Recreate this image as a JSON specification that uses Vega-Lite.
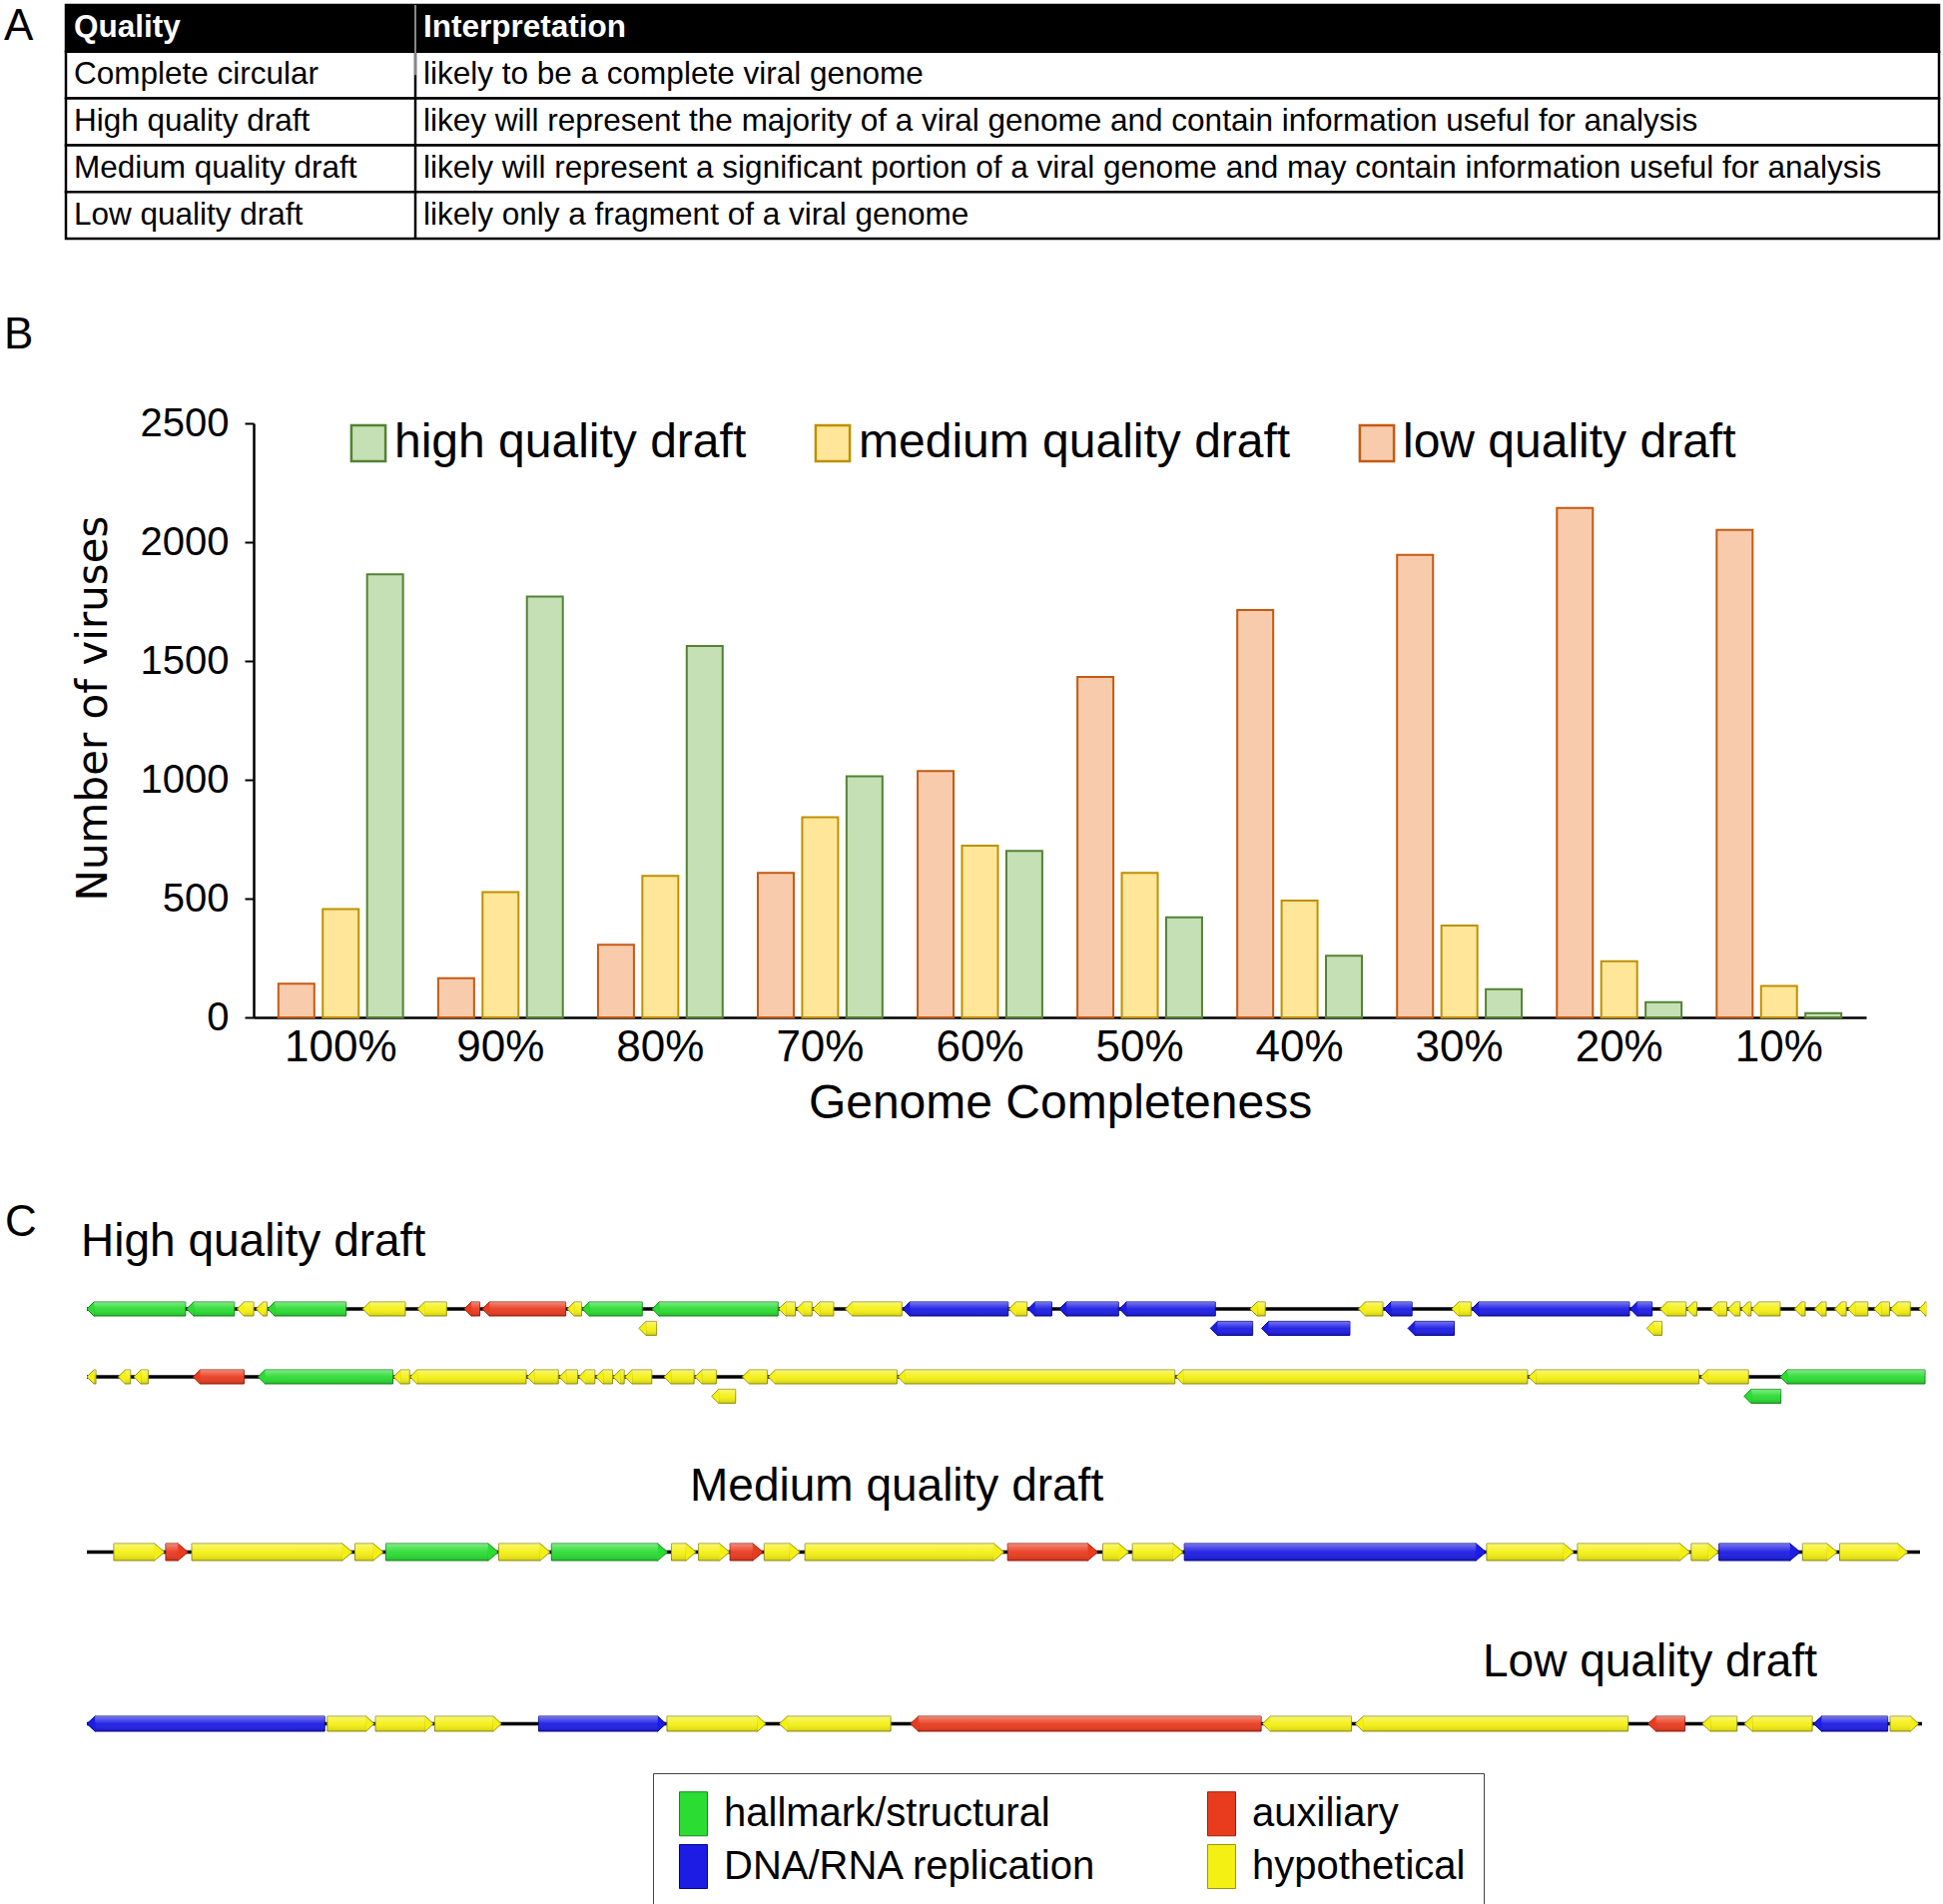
{
 "$schema": "https://vega.github.io/schema/vega-lite/v6.json",
 "padding": {"left": 0, "top": 3, "right": 0, "bottom": 0},
 "background": "white",
 "config": {
   "view": {"stroke": null},
   "font": "Liberation Sans",
   "title": {"font": "Liberation Sans", "fontWeight": "normal", "color": "black"},
   "axis": {"labelFont": "Liberation Sans", "titleFont": "Liberation Sans", "grid": false},
   "legend": {"labelFont": "Liberation Sans"}
 },
 "spacing": 0,
 "bounds": "flush",
 "resolve": {
   "scale": {"x": "independent", "y": "independent", "fill": "independent", "stroke": "independent", "color": "independent"},
   "axis": {"x": "independent", "y": "independent"},
   "legend": {"fill": "independent", "stroke": "independent"}
 },
 "datasets": {
   "table": [
     {"quality": "Quality", "interpretation": "Interpretation"},
     {"quality": "Complete circular", "interpretation": "likely to be a complete viral genome"},
     {"quality": "High quality draft", "interpretation": "likey will represent the majority of a viral genome and contain information useful for analysis"},
     {"quality": "Medium quality draft", "interpretation": "likely will represent a significant portion of a viral genome and may contain information useful for analysis"},
     {"quality": "Low quality draft", "interpretation": "likely only a fragment of a viral genome"}
   ],
   "bars": [
     {"completeness": "100%", "quality": "low quality draft", "count": 142},
     {"completeness": "100%", "quality": "medium quality draft", "count": 456},
     {"completeness": "100%", "quality": "high quality draft", "count": 1865},
     {"completeness": "90%", "quality": "low quality draft", "count": 165},
     {"completeness": "90%", "quality": "medium quality draft", "count": 527},
     {"completeness": "90%", "quality": "high quality draft", "count": 1771},
     {"completeness": "80%", "quality": "low quality draft", "count": 306},
     {"completeness": "80%", "quality": "medium quality draft", "count": 596},
     {"completeness": "80%", "quality": "high quality draft", "count": 1563},
     {"completeness": "70%", "quality": "low quality draft", "count": 608},
     {"completeness": "70%", "quality": "medium quality draft", "count": 842},
     {"completeness": "70%", "quality": "high quality draft", "count": 1015},
     {"completeness": "60%", "quality": "low quality draft", "count": 1037},
     {"completeness": "60%", "quality": "medium quality draft", "count": 723},
     {"completeness": "60%", "quality": "high quality draft", "count": 701},
     {"completeness": "50%", "quality": "low quality draft", "count": 1433},
     {"completeness": "50%", "quality": "medium quality draft", "count": 608},
     {"completeness": "50%", "quality": "high quality draft", "count": 421},
     {"completeness": "40%", "quality": "low quality draft", "count": 1714},
     {"completeness": "40%", "quality": "medium quality draft", "count": 492},
     {"completeness": "40%", "quality": "high quality draft", "count": 259},
     {"completeness": "30%", "quality": "low quality draft", "count": 1946},
     {"completeness": "30%", "quality": "medium quality draft", "count": 387},
     {"completeness": "30%", "quality": "high quality draft", "count": 119},
     {"completeness": "20%", "quality": "low quality draft", "count": 2144},
     {"completeness": "20%", "quality": "medium quality draft", "count": 236},
     {"completeness": "20%", "quality": "high quality draft", "count": 64},
     {"completeness": "10%", "quality": "low quality draft", "count": 2051},
     {"completeness": "10%", "quality": "medium quality draft", "count": 132},
     {"completeness": "10%", "quality": "high quality draft", "count": 18}
   ],
   "high1": [
     {"start": 1, "end": 1283, "category": "hallmark/structural", "track": "main"},
     {"start": 1296, "end": 1918, "category": "hallmark/structural", "track": "main"},
     {"start": 1952, "end": 2168, "category": "hypothetical", "track": "main"},
     {"start": 2199, "end": 2341, "category": "hypothetical", "track": "main"},
     {"start": 2350, "end": 3369, "category": "hallmark/structural", "track": "main"},
     {"start": 3585, "end": 4138, "category": "hypothetical", "track": "main"},
     {"start": 4298, "end": 4674, "category": "hypothetical", "track": "main"},
     {"start": 4903, "end": 5106, "category": "auxiliary", "track": "main"},
     {"start": 5140, "end": 6222, "category": "auxiliary", "track": "main"},
     {"start": 6243, "end": 6429, "category": "hypothetical", "track": "main"},
     {"start": 6438, "end": 7216, "category": "hallmark/structural", "track": "main"},
     {"start": 7173, "end": 7402, "category": "hypothetical", "track": "lower"},
     {"start": 7346, "end": 8980, "category": "hallmark/structural", "track": "main"},
     {"start": 8989, "end": 9205, "category": "hypothetical", "track": "main"},
     {"start": 9218, "end": 9421, "category": "hypothetical", "track": "main"},
     {"start": 9430, "end": 9702, "category": "hypothetical", "track": "main"},
     {"start": 9853, "end": 10588, "category": "hypothetical", "track": "main"},
     {"start": 10601, "end": 11970, "category": "DNA/RNA replication", "track": "main"},
     {"start": 11979, "end": 12215, "category": "hypothetical", "track": "main"},
     {"start": 12227, "end": 12536, "category": "DNA/RNA replication", "track": "main"},
     {"start": 12635, "end": 13403, "category": "DNA/RNA replication", "track": "main"},
     {"start": 13416, "end": 14661, "category": "DNA/RNA replication", "track": "main"},
     {"start": 14597, "end": 15146, "category": "DNA/RNA replication", "track": "lower"},
     {"start": 15112, "end": 15309, "category": "hypothetical", "track": "main"},
     {"start": 15262, "end": 16408, "category": "DNA/RNA replication", "track": "lower"},
     {"start": 16519, "end": 16837, "category": "hypothetical", "track": "main"},
     {"start": 16850, "end": 17215, "category": "DNA/RNA replication", "track": "main"},
     {"start": 17163, "end": 17764, "category": "DNA/RNA replication", "track": "lower"},
     {"start": 17730, "end": 17982, "category": "hypothetical", "track": "main"},
     {"start": 17990, "end": 20040, "category": "DNA/RNA replication", "track": "main"},
     {"start": 20049, "end": 20335, "category": "DNA/RNA replication", "track": "main"},
     {"start": 20265, "end": 20464, "category": "hypothetical", "track": "lower"},
     {"start": 20438, "end": 20776, "category": "hypothetical", "track": "main"},
     {"start": 20785, "end": 20915, "category": "hypothetical", "track": "main"},
     {"start": 21101, "end": 21305, "category": "hypothetical", "track": "main"},
     {"start": 21318, "end": 21478, "category": "hypothetical", "track": "main"},
     {"start": 21491, "end": 21621, "category": "hypothetical", "track": "main"},
     {"start": 21630, "end": 21998, "category": "hypothetical", "track": "main"},
     {"start": 22185, "end": 22323, "category": "hypothetical", "track": "main"},
     {"start": 22444, "end": 22596, "category": "hypothetical", "track": "main"},
     {"start": 22705, "end": 22856, "category": "hypothetical", "track": "main"},
     {"start": 22878, "end": 23138, "category": "hypothetical", "track": "main"},
     {"start": 23216, "end": 23419, "category": "hypothetical", "track": "main"},
     {"start": 23432, "end": 23688, "category": "hypothetical", "track": "main"},
     {"start": 23800, "end": 23880, "category": "hypothetical", "track": "main"}
   ],
   "high2": [
     {"start": 23880, "end": 23997, "category": "hypothetical", "track": "main"},
     {"start": 24287, "end": 24447, "category": "hypothetical", "track": "main"},
     {"start": 24490, "end": 24676, "category": "hypothetical", "track": "main"},
     {"start": 25259, "end": 25921, "category": "auxiliary", "track": "main"},
     {"start": 26102, "end": 27853, "category": "hallmark/structural", "track": "main"},
     {"start": 27862, "end": 28070, "category": "hypothetical", "track": "main"},
     {"start": 28075, "end": 29583, "category": "hypothetical", "track": "main"},
     {"start": 29596, "end": 30000, "category": "hypothetical", "track": "main"},
     {"start": 30013, "end": 30250, "category": "hypothetical", "track": "main"},
     {"start": 30263, "end": 30475, "category": "hypothetical", "track": "main"},
     {"start": 30488, "end": 30704, "category": "hypothetical", "track": "main"},
     {"start": 30712, "end": 30855, "category": "hypothetical", "track": "main"},
     {"start": 30864, "end": 31213, "category": "hypothetical", "track": "main"},
     {"start": 31373, "end": 31762, "category": "hypothetical", "track": "main"},
     {"start": 31775, "end": 32051, "category": "hypothetical", "track": "main"},
     {"start": 31990, "end": 32301, "category": "hypothetical", "track": "lower"},
     {"start": 32388, "end": 32712, "category": "hypothetical", "track": "main"},
     {"start": 32725, "end": 34396, "category": "hypothetical", "track": "main"},
     {"start": 34408, "end": 38004, "category": "hypothetical", "track": "main"},
     {"start": 38017, "end": 42581, "category": "hypothetical", "track": "main"},
     {"start": 42594, "end": 44807, "category": "hypothetical", "track": "main"},
     {"start": 44829, "end": 45449, "category": "hypothetical", "track": "main"},
     {"start": 45393, "end": 45870, "category": "hallmark/structural", "track": "lower"},
     {"start": 45861, "end": 47741, "category": "hallmark/structural", "track": "main"}
   ],
   "medium": [
     {"start": 267, "end": 768, "category": "hypothetical", "track": "main"},
     {"start": 780, "end": 1000, "category": "auxiliary", "track": "main"},
     {"start": 1037, "end": 2624, "category": "hypothetical", "track": "main"},
     {"start": 2649, "end": 2930, "category": "hypothetical", "track": "main"},
     {"start": 2954, "end": 4066, "category": "hallmark/structural", "track": "main"},
     {"start": 4070, "end": 4578, "category": "hypothetical", "track": "main"},
     {"start": 4591, "end": 5739, "category": "hallmark/structural", "track": "main"},
     {"start": 5776, "end": 6020, "category": "hypothetical", "track": "main"},
     {"start": 6044, "end": 6350, "category": "hypothetical", "track": "main"},
     {"start": 6355, "end": 6680, "category": "auxiliary", "track": "main"},
     {"start": 6692, "end": 7046, "category": "hypothetical", "track": "main"},
     {"start": 7095, "end": 9061, "category": "hypothetical", "track": "main"},
     {"start": 9098, "end": 9989, "category": "auxiliary", "track": "main"},
     {"start": 10038, "end": 10295, "category": "hypothetical", "track": "main"},
     {"start": 10331, "end": 10832, "category": "hypothetical", "track": "main"},
     {"start": 10844, "end": 13824, "category": "DNA/RNA replication", "track": "main"},
     {"start": 13830, "end": 14691, "category": "hypothetical", "track": "main"},
     {"start": 14728, "end": 15839, "category": "hypothetical", "track": "main"},
     {"start": 15852, "end": 16121, "category": "hypothetical", "track": "main"},
     {"start": 16126, "end": 16927, "category": "DNA/RNA replication", "track": "main"},
     {"start": 16951, "end": 17293, "category": "hypothetical", "track": "main"},
     {"start": 17318, "end": 17990, "category": "hypothetical", "track": "main"}
   ],
   "low": [
     {"start": 1, "end": 896, "category": "DNA/RNA replication", "strand": "-", "track": "main"},
     {"start": 906, "end": 1082, "category": "hypothetical", "strand": "+", "track": "main"},
     {"start": 1087, "end": 1305, "category": "hypothetical", "strand": "+", "track": "main"},
     {"start": 1310, "end": 1561, "category": "hypothetical", "strand": "+", "track": "main"},
     {"start": 1701, "end": 2180, "category": "DNA/RNA replication", "strand": "+", "track": "main"},
     {"start": 2184, "end": 2556, "category": "hypothetical", "strand": "+", "track": "main"},
     {"start": 2607, "end": 3026, "category": "hypothetical", "strand": "-", "track": "main"},
     {"start": 3100, "end": 4420, "category": "auxiliary", "strand": "-", "track": "main"},
     {"start": 4425, "end": 4760, "category": "hypothetical", "strand": "-", "track": "main"},
     {"start": 4774, "end": 5801, "category": "hypothetical", "strand": "-", "track": "main"},
     {"start": 5876, "end": 6015, "category": "auxiliary", "strand": "-", "track": "main"},
     {"start": 6080, "end": 6211, "category": "hypothetical", "strand": "-", "track": "main"},
     {"start": 6238, "end": 6494, "category": "hypothetical", "strand": "-", "track": "main"},
     {"start": 6499, "end": 6778, "category": "DNA/RNA replication", "strand": "-", "track": "main"},
     {"start": 6787, "end": 6894, "category": "hypothetical", "strand": "+", "track": "main"}
   ]
 },
 "vconcat": [
   {"width": 1942, "height": 234, "data": {"name": "table"},
    "title": {"text": "A", "anchor": "start", "frame": "group", "baseline": "top", "offset": -45, "dx": 4, "fontSize": 44},
    "layer": [
      {"mark": {"type": "rect", "stroke": "black", "strokeWidth": 2.5},
       "encoding": {
         "y": {"field": "quality", "type": "nominal", "sort": null, "axis": null, "scale": {"paddingInner": 0, "paddingOuter": 0}},
         "x": {"datum": 0, "type": "quantitative", "scale": {"domain": [0, 1], "range": [66, 1942]}, "axis": null},
         "x2": {"datum": 1},
         "fill": {"condition": {"test": "datum.quality === 'Quality'", "value": "black"}, "value": "white"}}},
      {"data": {"values": [{"divider": "column"}]},
       "mark": {"type": "rule", "color": "black", "strokeWidth": 2.5},
       "encoding": {"x": {"datum": 0.18657, "type": "quantitative", "axis": null}}},
      {"transform": [{"filter": "datum.quality === 'Quality'"}],
       "mark": {"type": "rule", "color": "#d0d0d0", "strokeWidth": 1.3},
       "encoding": {
         "x": {"datum": 0.18657, "type": "quantitative", "axis": null},
         "y": {"field": "quality", "type": "nominal", "sort": null, "axis": null, "bandPosition": 0},
         "y2": {"datum": "Complete circular"}}},
      {"transform": [{"filter": "datum.quality === 'Quality'"}],
       "mark": {"type": "text", "align": "left", "baseline": "middle", "dx": 8, "fontSize": 31.5, "fontWeight": "bold", "color": "white"},
       "encoding": {"text": {"field": "quality"}, "y": {"field": "quality", "type": "nominal", "sort": null, "axis": null}, "x": {"datum": 0, "type": "quantitative", "axis": null}}},
      {"transform": [{"filter": "datum.quality !== 'Quality'"}],
       "mark": {"type": "text", "align": "left", "baseline": "middle", "dx": 8, "fontSize": 31.5, "color": "black"},
       "encoding": {"text": {"field": "quality"}, "y": {"field": "quality", "type": "nominal", "sort": null, "axis": null}, "x": {"datum": 0, "type": "quantitative", "axis": null}}},
      {"transform": [{"filter": "datum.quality === 'Quality'"}],
       "mark": {"type": "text", "align": "left", "baseline": "middle", "dx": 8, "fontSize": 31.5, "fontWeight": "bold", "color": "white"},
       "encoding": {"text": {"field": "interpretation"}, "y": {"field": "quality", "type": "nominal", "sort": null, "axis": null}, "x": {"datum": 0.18657, "type": "quantitative", "axis": null}}},
      {"transform": [{"filter": "datum.quality !== 'Quality'"}],
       "mark": {"type": "text", "align": "left", "baseline": "middle", "dx": 8, "fontSize": 31.5, "color": "black"},
       "encoding": {"text": {"field": "interpretation"}, "y": {"field": "quality", "type": "nominal", "sort": null, "axis": null}, "x": {"datum": 0.18657, "type": "quantitative", "axis": null}}}
    ]},
   {"width": 1869, "height": 780, "data": {"name": "bars"},
    "title": {"text": "B", "anchor": "start", "frame": "group", "baseline": "top", "offset": -118.5, "dx": 4, "fontSize": 44},
    "mark": {"type": "bar", "strokeWidth": 2, "opacity": 1},
    "encoding": {
      "x": {"field": "completeness", "type": "nominal", "sort": ["100%", "90%", "80%", "70%", "60%", "50%", "40%", "30%", "20%", "10%"],
            "scale": {"range": [254, 1869], "paddingInner": 0.22, "paddingOuter": 0.155},
            "axis": {"title": "Genome Completeness", "labelAngle": 0, "labelFontSize": 44, "labelColor": "black", "labelPadding": 8, "ticks": false, "domainColor": "black", "domainWidth": 2.5, "titleFontSize": 48, "titleFontWeight": "normal", "titleColor": "black", "titlePadding": 10}},
      "xOffset": {"field": "quality", "type": "nominal", "sort": ["low quality draft", "medium quality draft", "high quality draft"], "scale": {"paddingInner": 0.19, "paddingOuter": 0}},
      "y": {"field": "count", "type": "quantitative", "scale": {"domain": [0, 2500], "nice": false, "range": [780, 185]},
            "axis": {"offset": -254, "values": [0, 500, 1000, 1500, 2000, 2500], "format": "d", "grid": false, "title": "Number of viruses", "titleFont": "DejaVu Sans", "titleFontSize": 42, "titleFontWeight": "normal", "titleColor": "black", "titlePadding": 25, "titleY": 470, "labelFontSize": 40, "labelColor": "black", "labelPadding": 16, "tickSize": 9, "tickWidth": 2, "tickColor": "black", "domainColor": "black", "domainWidth": 2.5}},
      "fill": {"field": "quality", "type": "nominal",
               "scale": {"domain": ["high quality draft", "medium quality draft", "low quality draft"], "range": ["#c5e0b4", "#ffe699", "#f8cbad"]},
               "legend": {"title": null, "orient": "none", "legendX": 345, "legendY": 181, "direction": "horizontal", "columns": 3, "columnPadding": 62, "labelFontSize": 48, "labelColor": "black", "labelOffset": 2, "labelLimit": 700, "symbolType": "M -0.95 -1 H 0.95 V 1 H -0.95 Z", "symbolSize": 1296, "symbolStrokeWidth": 2.5, "padding": 0}},
      "stroke": {"field": "quality", "type": "nominal",
               "scale": {"domain": ["high quality draft", "medium quality draft", "low quality draft"], "range": ["#548235", "#bf9000", "#c55a11"]},
               "legend": {"title": null, "orient": "none", "legendX": 345, "legendY": 181, "direction": "horizontal", "columns": 3, "columnPadding": 62, "labelFontSize": 48, "labelColor": "black", "labelOffset": 2, "labelLimit": 700, "symbolType": "M -0.95 -1 H 0.95 V 1 H -0.95 Z", "symbolSize": 1296, "symbolStrokeWidth": 2.5, "padding": 0}}
    }},
   {"width": 87, "height": 281.3, "data": {"values": []}, "mark": "point",
    "title": {"text": "C", "anchor": "start", "frame": "group", "baseline": "top", "offset": -227.5, "dx": 5, "fontSize": 44}},
   {"width": 1928, "height": 67.4,
    "title": {"text": "High quality draft", "anchor": "start", "frame": "group", "fontSize": 46, "baseline": "alphabetic", "offset": -3, "dx": 81},
    "layer": [
      {"data": {"values": [{"start": 1, "end": 23880}]},
       "mark": {"type": "rule", "strokeWidth": 3.5, "color": "black"},
       "encoding": {
         "x": {"field": "start", "type": "quantitative", "scale": {"domain": [1, 23880], "range": [87, 1928], "nice": false, "zero": false},
               "axis": {"orient": "top", "values": [1, 1000, 2000, 3000, 4000, 5000, 6000, 7000, 8000, 9000, 10000, 11000, 12000, 13000, 14000, 15000, 16000, 17000, 18000, 19000, 20000, 21000, 22000, 23000], "format": ",", "title": null, "domain": false, "grid": false, "tickSize": 4, "tickColor": "#777", "labelFont": "Open Sans", "labelFontSize": 11.5, "labelColor": "#444", "labelPadding": 1, "labelFlush": true, "labelOverlap": false}},
         "x2": {"field": "end"},
         "y": {"datum": "main", "type": "nominal", "bandPosition": 0.5, "scale": {"domain": ["main", "lower"], "range": [0, 39.4], "paddingInner": 0.278, "paddingOuter": 0.155}, "axis": null}}},
      {"data": {"name": "high1"},
       "mark": {"type": "rect", "xOffset": 7, "strokeWidth": 1, "opacity": 1},
       "encoding": {
         "x": {"field": "start", "type": "quantitative", "axis": null},
         "x2": {"field": "end"},
         "y": {"field": "track", "type": "nominal", "axis": null},
         "fill": {"field": "category", "type": "nominal", "scale": {"domain": ["hallmark/structural", "auxiliary", "DNA/RNA replication", "hypothetical"], "range": ["#2bdc33", "#e93c1f", "#1c1ce4", "#f4f014"]}, "legend": null},
         "stroke": {"field": "category", "type": "nominal", "scale": {"domain": ["hallmark/structural", "auxiliary", "DNA/RNA replication", "hypothetical"], "range": ["#138a17", "#9e1a0c", "#06068c", "#9a9412"]}, "legend": null}}},
      {"data": {"name": "high1"},
       "mark": {"type": "point", "shape": "M 1.08 -1 L 1 -1 L 0 0 L 1 1 L 1.08 1", "size": 196, "filled": true, "strokeWidth": 1, "opacity": 1},
       "encoding": {
         "x": {"field": "start", "type": "quantitative", "axis": null},
         "y": {"field": "track", "type": "nominal", "axis": null},
         "fill": {"field": "category", "type": "nominal", "legend": null},
         "stroke": {"field": "category", "type": "nominal", "legend": null}}},
      {"data": {"name": "high1"},
       "mark": {"type": "rect", "xOffset": 7, "strokeWidth": 0, "opacity": 1, "fill": {"gradient": "linear", "x1": 0, "y1": 0, "x2": 0, "y2": 1, "stops": [{"offset": 0, "color": "rgba(255,255,255,0.4)"}, {"offset": 0.5, "color": "rgba(255,255,255,0.05)"}, {"offset": 1, "color": "rgba(0,0,0,0.15)"}]}},
       "encoding": {
         "x": {"field": "start", "type": "quantitative", "axis": null},
         "x2": {"field": "end"},
         "y": {"field": "track", "type": "nominal", "axis": null}}}
    ]},
   {"width": 1928, "height": 173.8,
    "layer": [
      {"data": {"values": [{"start": 23880, "end": 47741}]},
       "mark": {"type": "rule", "strokeWidth": 3.5, "color": "black"},
       "encoding": {
         "x": {"field": "start", "type": "quantitative", "scale": {"domain": [23880, 47741], "range": [87, 1928], "nice": false, "zero": false},
               "axis": {"orient": "top", "values": [24000, 25000, 26000, 27000, 28000, 29000, 30000, 31000, 32000, 33000, 34000, 35000, 36000, 37000, 38000, 39000, 40000, 41000, 42000, 43000, 44000, 45000, 46000, 47741], "format": ",", "title": null, "domain": false, "grid": false, "tickSize": 4, "tickColor": "#777", "labelFont": "Open Sans", "labelFontSize": 11.5, "labelColor": "#444", "labelPadding": 1, "labelFlush": true, "labelOverlap": false}},
         "x2": {"field": "end"},
         "y": {"datum": "main", "type": "nominal", "bandPosition": 0.5, "scale": {"domain": ["main", "lower"], "range": [0, 39.4], "paddingInner": 0.278, "paddingOuter": 0.155}, "axis": null}}},
      {"data": {"name": "high2"},
       "mark": {"type": "rect", "xOffset": 7, "strokeWidth": 1, "opacity": 1},
       "encoding": {
         "x": {"field": "start", "type": "quantitative", "axis": null},
         "x2": {"field": "end"},
         "y": {"field": "track", "type": "nominal", "axis": null},
         "fill": {"field": "category", "type": "nominal", "scale": {"domain": ["hallmark/structural", "auxiliary", "DNA/RNA replication", "hypothetical"], "range": ["#2bdc33", "#e93c1f", "#1c1ce4", "#f4f014"]}, "legend": null},
         "stroke": {"field": "category", "type": "nominal", "scale": {"domain": ["hallmark/structural", "auxiliary", "DNA/RNA replication", "hypothetical"], "range": ["#138a17", "#9e1a0c", "#06068c", "#9a9412"]}, "legend": null}}},
      {"data": {"name": "high2"},
       "mark": {"type": "point", "shape": "M 1.08 -1 L 1 -1 L 0 0 L 1 1 L 1.08 1", "size": 196, "filled": true, "strokeWidth": 1, "opacity": 1},
       "encoding": {
         "x": {"field": "start", "type": "quantitative", "axis": null},
         "y": {"field": "track", "type": "nominal", "axis": null},
         "fill": {"field": "category", "type": "nominal", "legend": null},
         "stroke": {"field": "category", "type": "nominal", "legend": null}}},
      {"data": {"name": "high2"},
       "mark": {"type": "rect", "xOffset": 7, "strokeWidth": 0, "opacity": 1, "fill": {"gradient": "linear", "x1": 0, "y1": 0, "x2": 0, "y2": 1, "stops": [{"offset": 0, "color": "rgba(255,255,255,0.4)"}, {"offset": 0.5, "color": "rgba(255,255,255,0.05)"}, {"offset": 1, "color": "rgba(0,0,0,0.15)"}]}},
       "encoding": {
         "x": {"field": "start", "type": "quantitative", "axis": null},
         "x2": {"field": "end"},
         "y": {"field": "track", "type": "nominal", "axis": null}}}
    ]},
   {"width": 1928, "height": 172.5,
    "title": {"text": "Medium quality draft", "anchor": "start", "frame": "group", "fontSize": 46, "baseline": "alphabetic", "offset": -5.5, "dx": 691},
    "layer": [
      {"data": {"values": [{"start": 1, "end": 18112}]},
       "mark": {"type": "rule", "strokeWidth": 3.5, "color": "black"},
       "encoding": {
         "x": {"field": "start", "type": "quantitative", "scale": {"domain": [1, 18112], "range": [87, 1923], "nice": false, "zero": false},
               "axis": {"orient": "top", "values": [1, 1000, 2000, 3000, 4000, 5000, 6000, 7000, 8000, 9000, 10000, 11000, 12000, 13000, 14000, 15000, 16000, 17000, 18112], "format": ",", "title": null, "domain": false, "grid": false, "tickSize": 4, "tickColor": "#777", "labelFont": "Open Sans", "labelFontSize": 11.5, "labelColor": "#444", "labelPadding": 1, "labelFlush": true, "labelOverlap": false}},
         "x2": {"field": "end"},
         "y": {"datum": "main", "type": "nominal", "bandPosition": 0.5, "scale": {"domain": ["main"], "range": [0, 23], "paddingInner": 0, "paddingOuter": 0.176}, "axis": null}}},
      {"data": {"name": "medium"},
       "mark": {"type": "rect", "x2Offset": -10, "strokeWidth": 1, "opacity": 1},
       "encoding": {
         "x": {"field": "start", "type": "quantitative", "axis": null},
         "x2": {"field": "end"},
         "y": {"field": "track", "type": "nominal", "axis": null},
         "fill": {"field": "category", "type": "nominal", "scale": {"domain": ["hallmark/structural", "auxiliary", "DNA/RNA replication", "hypothetical"], "range": ["#2bdc33", "#e93c1f", "#1c1ce4", "#f4f014"]}, "legend": null},
         "stroke": {"field": "category", "type": "nominal", "scale": {"domain": ["hallmark/structural", "auxiliary", "DNA/RNA replication", "hypothetical"], "range": ["#138a17", "#9e1a0c", "#06068c", "#9a9412"]}, "legend": null}}},
      {"data": {"name": "medium"},
       "mark": {"type": "point", "shape": "M -1.26 -1 L -1.18 -1 L 0 0 L -1.18 1 L -1.26 1", "size": 289, "filled": true, "strokeWidth": 1, "opacity": 1},
       "encoding": {
         "x": {"field": "end", "type": "quantitative", "axis": null},
         "y": {"field": "track", "type": "nominal", "axis": null},
         "fill": {"field": "category", "type": "nominal", "legend": null},
         "stroke": {"field": "category", "type": "nominal", "legend": null}}},
      {"data": {"name": "medium"},
       "mark": {"type": "rect", "x2Offset": -10, "strokeWidth": 0, "opacity": 1, "fill": {"gradient": "linear", "x1": 0, "y1": 0, "x2": 0, "y2": 1, "stops": [{"offset": 0, "color": "rgba(255,255,255,0.4)"}, {"offset": 0.5, "color": "rgba(255,255,255,0.05)"}, {"offset": 1, "color": "rgba(0,0,0,0.15)"}]}},
       "encoding": {
         "x": {"field": "start", "type": "quantitative", "axis": null},
         "x2": {"field": "end"},
         "y": {"field": "track", "type": "nominal", "axis": null}}}
    ]},
   {"width": 1928, "height": 21,
    "title": {"text": "Low quality draft", "anchor": "start", "frame": "group", "fontSize": 46, "baseline": "alphabetic", "offset": -9, "dx": 1485},
    "layer": [
      {"data": {"values": [{"start": 1, "end": 6907}]},
       "mark": {"type": "rule", "strokeWidth": 3.5, "color": "black"},
       "encoding": {
         "x": {"field": "start", "type": "quantitative", "scale": {"domain": [1, 6907], "range": [87, 1925], "nice": false, "zero": false},
               "axis": {"orient": "top", "values": [1, 250, 500, 750, 1000, 1250, 1500, 1750, 2000, 2250, 2500, 2750, 3000, 3250, 3500, 3750, 4000, 4250, 4500, 4750, 5000, 5250, 5500, 5750, 6000, 6250, 6500, 6750, 6907], "format": ",", "title": null, "domain": false, "grid": false, "tickSize": 4, "tickColor": "#777", "labelFont": "Open Sans", "labelFontSize": 11, "labelColor": "#444", "labelPadding": 1, "labelFlush": true, "labelOverlap": false}},
         "x2": {"field": "end"},
         "y": {"datum": "main", "type": "nominal", "bandPosition": 0.5, "scale": {"domain": ["main"], "paddingInner": 0, "paddingOuter": 0.2}, "axis": null}}},
      {"data": {"name": "low"},
       "transform": [{"filter": "datum.strand === '-'"}],
       "mark": {"type": "rect", "xOffset": 8, "strokeWidth": 1, "opacity": 1},
       "encoding": {
         "x": {"field": "start", "type": "quantitative", "axis": null},
         "x2": {"field": "end"},
         "y": {"field": "track", "type": "nominal", "axis": null},
         "fill": {"field": "category", "type": "nominal", "scale": {"domain": ["hallmark/structural", "DNA/RNA replication", "auxiliary", "hypothetical"], "range": ["#2bdc33", "#1c1ce4", "#e93c1f", "#f4f014"]},
                  "legend": {"title": null, "orient": "none", "legendX": 654, "legendY": 60, "direction": "vertical", "columns": 2, "columnPadding": 102, "rowPadding": 4, "padding": 18, "strokeColor": "#444", "fillColor": "white", "labelFontSize": 40, "labelColor": "black", "labelOffset": 8, "labelLimit": 600, "symbolType": "M -0.636 -1 H 0.636 V 1 H -0.636 Z", "symbolSize": 1936, "symbolStrokeWidth": 1}},
         "stroke": {"field": "category", "type": "nominal", "scale": {"domain": ["hallmark/structural", "DNA/RNA replication", "auxiliary", "hypothetical"], "range": ["#138a17", "#06068c", "#9e1a0c", "#9a9412"]},
                  "legend": {"title": null, "orient": "none", "legendX": 654, "legendY": 60, "direction": "vertical", "columns": 2, "columnPadding": 102, "rowPadding": 4, "padding": 18, "strokeColor": "#444", "fillColor": "white", "labelFontSize": 40, "labelColor": "black", "labelOffset": 8, "labelLimit": 600, "symbolType": "M -0.636 -1 H 0.636 V 1 H -0.636 Z", "symbolSize": 1936, "symbolStrokeWidth": 1}}}},
      {"data": {"name": "low"},
       "transform": [{"filter": "datum.strand === '+'"}],
       "mark": {"type": "rect", "x2Offset": -8, "strokeWidth": 1, "opacity": 1},
       "encoding": {
         "x": {"field": "start", "type": "quantitative", "axis": null},
         "x2": {"field": "end"},
         "y": {"field": "track", "type": "nominal", "axis": null},
         "fill": {"field": "category", "type": "nominal", "legend": null},
         "stroke": {"field": "category", "type": "nominal", "legend": null}}},
      {"data": {"name": "low"},
       "transform": [{"filter": "datum.strand === '-'"}],
       "mark": {"type": "point", "shape": "M 1.14 -1 L 1.07 -1 L 0 0 L 1.07 1 L 1.14 1", "size": 225, "filled": true, "strokeWidth": 1, "opacity": 1},
       "encoding": {
         "x": {"field": "start", "type": "quantitative", "axis": null},
         "y": {"field": "track", "type": "nominal", "axis": null},
         "fill": {"field": "category", "type": "nominal", "legend": null},
         "stroke": {"field": "category", "type": "nominal", "legend": null}}},
      {"data": {"name": "low"},
       "transform": [{"filter": "datum.strand === '+'"}],
       "mark": {"type": "point", "shape": "M -1.14 -1 L -1.07 -1 L 0 0 L -1.07 1 L -1.14 1", "size": 225, "filled": true, "strokeWidth": 1, "opacity": 1},
       "encoding": {
         "x": {"field": "end", "type": "quantitative", "axis": null},
         "y": {"field": "track", "type": "nominal", "axis": null},
         "fill": {"field": "category", "type": "nominal", "legend": null},
         "stroke": {"field": "category", "type": "nominal", "legend": null}}},
      {"data": {"name": "low"},
       "transform": [{"filter": "datum.strand === '-'"}],
       "mark": {"type": "rect", "xOffset": 8, "strokeWidth": 0, "opacity": 1, "fill": {"gradient": "linear", "x1": 0, "y1": 0, "x2": 0, "y2": 1, "stops": [{"offset": 0, "color": "rgba(255,255,255,0.4)"}, {"offset": 0.5, "color": "rgba(255,255,255,0.05)"}, {"offset": 1, "color": "rgba(0,0,0,0.15)"}]}},
       "encoding": {
         "x": {"field": "start", "type": "quantitative", "axis": null},
         "x2": {"field": "end"},
         "y": {"field": "track", "type": "nominal", "axis": null}}},
      {"data": {"name": "low"},
       "transform": [{"filter": "datum.strand === '+'"}],
       "mark": {"type": "rect", "x2Offset": -8, "strokeWidth": 0, "opacity": 1, "fill": {"gradient": "linear", "x1": 0, "y1": 0, "x2": 0, "y2": 1, "stops": [{"offset": 0, "color": "rgba(255,255,255,0.4)"}, {"offset": 0.5, "color": "rgba(255,255,255,0.05)"}, {"offset": 1, "color": "rgba(0,0,0,0.15)"}]}},
       "encoding": {
         "x": {"field": "start", "type": "quantitative", "axis": null},
         "x2": {"field": "end"},
         "y": {"field": "track", "type": "nominal", "axis": null}}}
    ]}
 ]
}
